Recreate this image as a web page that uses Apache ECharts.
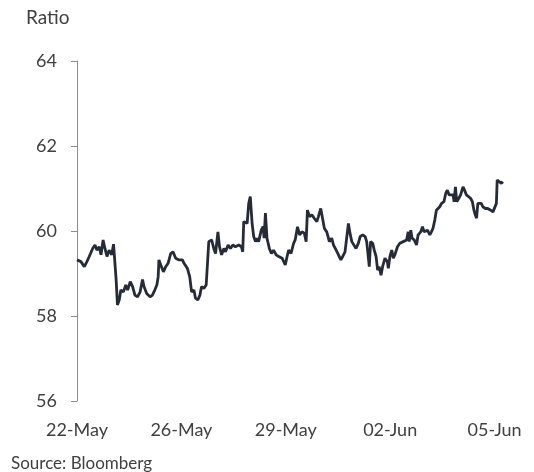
<!DOCTYPE html>
<html>
<head>
<meta charset="utf-8">
<script src="https://cdn.jsdelivr.net/npm/echarts@6/dist/echarts.min.js"></script>
<style>
html,body{margin:0;padding:0;background:#fff;}
#chart{width:534px;height:472px;}
</style>
</head>
<body>
<div id="chart"></div>
<script>
// Tick labels on the x axis (one every 40 sample positions)
const tickLabels = ['22-May', '26-May', '29-May', '02-Jun', '05-Jun'];
const yTicks = [56, 58, 60, 62, 64];

// Sample positions along the time axis (tick labels sit at 0, 40, 80, 120, 160)
const samplePos = [
  0, 1.5, 2.8, 3.8, 4.7, 6.0, 6.9, 7.6, 8.5, 9.2, 10.0, 10.7, 11.5, 12.3, 13.3, 14.0, 14.6, 15.0, 15.5, 16.2,
  16.8, 17.8, 18.7, 19.4, 20.4, 21.3, 22.2, 23.2, 24.2, 25.1, 25.7, 26.7, 28.0, 28.9, 29.8, 30.6, 31.1, 31.4, 32.1, 33.1,
  34.0, 34.9, 35.9, 36.8, 37.8, 39.1, 40.4, 41.0, 42.3, 43.2, 43.9, 44.8, 45.4, 46.3, 47.1, 47.7, 48.6, 49.5, 50.0, 50.5,
  51.6, 52.4, 53.1, 54.0, 54.6, 55.4, 56.3, 56.9, 57.9, 58.8, 59.7, 60.7, 62.0, 63.0, 63.5, 63.9, 64.5, 65.2, 65.8, 66.4,
  67.1, 67.7, 68.4, 69.0, 69.6, 70.6, 71.3, 71.7, 72.2, 72.8, 73.7, 74.5, 75.3, 76.3, 77.3, 78.6, 79.8, 80.5, 81.1, 82.0,
  83.0, 83.6, 84.5, 85.3, 86.2, 87.1, 87.8, 88.3, 89.1, 90.0, 90.9, 91.9, 92.5, 93.4, 94.2, 94.8, 95.7, 96.7, 97.6, 98.3,
  99.3, 100.2, 101.1, 101.8, 102.7, 103.4, 104.0, 104.6, 105.3, 105.9, 106.9, 107.8, 108.5, 109.5, 110.4, 111.0, 111.6, 112.0, 112.5, 113.3,
  113.9, 114.6, 115.2, 115.8, 116.5, 117.1, 118.0, 118.9, 119.3, 119.9, 120.6, 121.2, 121.8, 122.8, 123.7, 125.0, 126.3, 126.9, 127.3, 127.9,
  128.4, 129.2, 130.1, 130.7, 131.7, 132.4, 133.0, 133.7, 134.3, 135.2, 135.8, 136.4, 137.1, 137.7, 138.4, 139.0, 139.7, 140.6, 141.3, 141.9,
  142.6, 143.2, 144.1, 144.5, 145.0, 145.5, 146.3, 147.0, 147.9, 148.5, 149.2, 149.8, 150.8, 151.5, 152.1, 152.6, 153.1, 153.6, 154.3, 154.9,
  155.5, 156.5, 157.4, 158.5, 159.4, 160.0, 160.7, 161.0, 161.6, 162.6, 163.2
];

// Ratio values
const ratio = [
  59.32, 59.28, 59.16, 59.28, 59.40, 59.59, 59.67, 59.55, 59.63, 59.44, 59.79, 59.59, 59.40, 59.55, 59.44, 59.69, 59.67, 58.85, 58.26, 58.38,
  58.61, 58.57, 58.73, 58.61, 58.81, 58.69, 58.49, 58.45, 58.57, 58.86, 58.69, 58.53, 58.45, 58.49, 58.61, 58.73, 58.92, 59.32, 59.20, 59.04,
  59.16, 59.24, 59.47, 59.51, 59.36, 59.32, 59.32, 59.24, 59.12, 58.92, 58.57, 58.61, 58.42, 58.38, 58.49, 58.69, 58.65, 58.73, 58.77, 59.75,
  59.79, 59.59, 59.47, 59.98, 59.63, 59.44, 59.59, 59.51, 59.67, 59.59, 59.67, 59.63, 59.67, 59.63, 59.51, 60.22, 60.26, 60.18, 60.65, 60.81,
  60.18, 59.87, 59.75, 59.83, 59.75, 60.02, 60.10, 59.83, 60.42, 59.83, 59.59, 59.47, 59.55, 59.44, 59.40, 59.36, 59.20, 59.40, 59.55, 59.47,
  59.71, 59.79, 60.10, 59.91, 59.98, 59.95, 59.75, 60.49, 60.34, 60.38, 60.30, 60.22, 60.34, 60.53, 60.26, 60.06, 59.98, 59.75, 59.83, 59.67,
  59.55, 59.44, 59.32, 59.40, 59.51, 59.55, 60.18, 59.95, 59.75, 59.71, 59.59, 59.71, 59.87, 59.91, 59.87, 59.75, 59.79, 59.16, 59.75, 59.71,
  59.55, 59.40, 59.08, 59.16, 58.96, 59.16, 59.36, 59.28, 59.12, 59.40, 59.55, 59.36, 59.44, 59.63, 59.71, 59.75, 59.79, 59.98, 59.75, 60.02,
  59.83, 59.79, 59.67, 59.91, 59.98, 60.10, 59.98, 59.95, 60.02, 59.91, 59.98, 60.06, 60.26, 60.49, 60.53, 60.57, 60.65, 60.69, 60.89, 60.96,
  60.85, 60.81, 60.85, 60.69, 61.04, 60.69, 60.77, 60.85, 61.04, 60.96, 60.85, 60.81, 60.77, 60.69, 60.49, 60.38, 60.30, 60.65, 60.69, 60.65,
  60.57, 60.53, 60.53, 60.49, 60.45, 60.49, 60.65, 61.20, 61.16, 61.12, 61.16
];

const labelStep = 40;
const seriesData = samplePos.map((p, i) => [p, ratio[i]]);

const chart = echarts.init(document.getElementById('chart'), null, {renderer: 'canvas'});
const textColor = '#404040';
const fontFamily = 'Lato, "Open Sans", sans-serif';

chart.setOption({
  animation: false,
  backgroundColor: '#ffffff',
  title: [
    {text: 'Ratio', left: 21, top: 3, textStyle: {fontFamily, fontSize: 19, fontWeight: 'normal', color: textColor}},
    {text: 'Source: Bloomberg', left: 6, top: 450, textStyle: {fontFamily, fontSize: 17, fontWeight: 'normal', color: textColor}}
  ],
  grid: {left: 77, right: 29, top: 61, bottom: 71, containLabel: false},
  xAxis: {
    type: 'value',
    min: 0,
    max: 164,
    interval: labelStep,
    axisLine: {show: false},
    axisTick: {show: false},
    splitLine: {show: false},
    axisLabel: {
      margin: 20,
      fontFamily, fontSize: 18, color: textColor,
      showMaxLabel: false,
      formatter: v => (v % labelStep === 0 && tickLabels[v / labelStep] !== undefined) ? tickLabels[v / labelStep] : ''
    }
  },
  yAxis: {
    type: 'value',
    min: yTicks[0],
    max: yTicks[yTicks.length - 1],
    interval: yTicks[1] - yTicks[0],
    axisLine: {show: true, lineStyle: {color: '#8c8c8c', width: 1}},
    axisTick: {show: true, length: 6, lineStyle: {color: '#8c8c8c', width: 1}},
    splitLine: {show: false},
    axisLabel: {margin: 20, fontFamily, fontSize: 18, color: textColor}
  },
  series: [{
    type: 'line',
    data: seriesData,
    showSymbol: false,
    symbol: 'none',
    lineStyle: {color: '#262b38', width: 2.8},
    z: 3
  }]
});
</script>
</body>
</html>
